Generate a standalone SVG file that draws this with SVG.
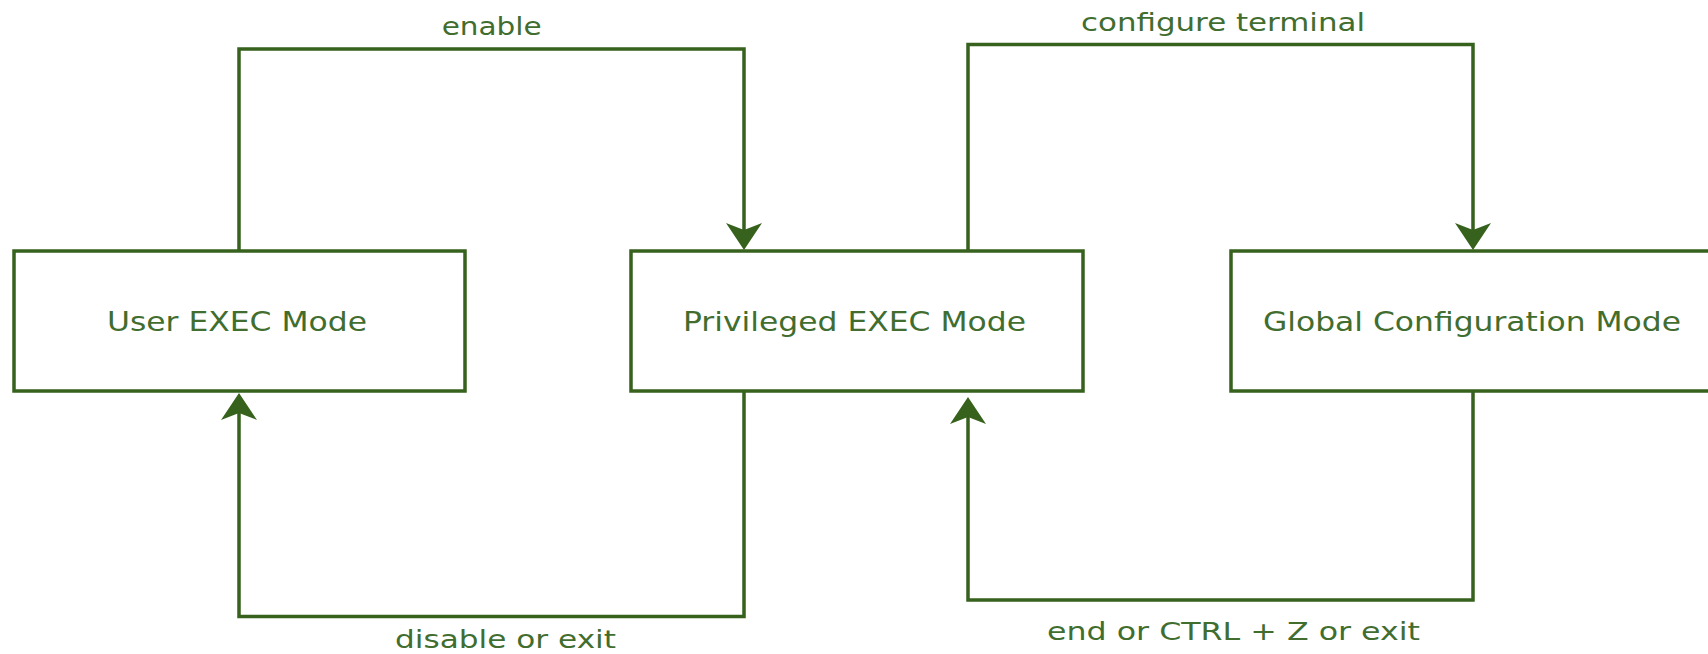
<svg xmlns="http://www.w3.org/2000/svg" width="1708" height="654" viewBox="0 0 1708 654">
  <style>
    .box { fill: #ffffff; stroke: #36621d; stroke-width: 3.5; }
    .edge { fill: none; stroke: #36621d; stroke-width: 3.5; }
    .label { font-family: "DejaVu Sans", Verdana, sans-serif; fill: #416d2f; }
    .node-label { font-size: 27px; }
    .edge-label { font-size: 24px; }
  </style>
  <defs>
    <marker id="arrow" markerUnits="userSpaceOnUse" orient="auto" refX="0" refY="0" markerWidth="40" markerHeight="40" overflow="visible">
      <path d="M20,0 L-7,-18 L0,0 L-7,18 Z" fill="#36621d"/>
    </marker>
  </defs>
  <rect width="1708" height="654" fill="#ffffff"/>

  <g id="connectors">
    <path class="edge" d="M239,251 V49 H744 V230" marker-end="url(#arrow)"/>
    <path class="edge" d="M968,251 V44.5 H1473 V230" marker-end="url(#arrow)"/>
    <path class="edge" d="M744,391 V616.5 H239 V413" marker-end="url(#arrow)"/>
    <path class="edge" d="M1473,391 V600 H968 V417" marker-end="url(#arrow)"/>
    <text class="label edge-label" x="441.7" y="35" textLength="100" lengthAdjust="spacingAndGlyphs">enable</text>
    <text class="label edge-label" x="1081" y="30.7" textLength="284" lengthAdjust="spacingAndGlyphs">configure terminal</text>
    <text class="label edge-label" x="395" y="648" textLength="221" lengthAdjust="spacingAndGlyphs">disable or exit</text>
    <text class="label edge-label" x="1047" y="640" textLength="373" lengthAdjust="spacingAndGlyphs">end or CTRL + Z or exit</text>
  </g>

  <g id="user-exec">
    <rect class="box" x="14" y="251" width="451" height="140"/>
    <text class="label node-label" x="107" y="331" textLength="260" lengthAdjust="spacingAndGlyphs">User EXEC Mode</text>
  </g>
  <g id="privileged-exec">
    <rect class="box" x="631" y="251" width="452" height="140"/>
    <text class="label node-label" x="683" y="331" textLength="343" lengthAdjust="spacingAndGlyphs">Privileged EXEC Mode</text>
  </g>
  <g id="global-config">
    <rect class="box" x="1231" y="251" width="495" height="140"/>
    <text class="label node-label" x="1263" y="331" textLength="418" lengthAdjust="spacingAndGlyphs">Global Configuration Mode</text>
  </g>
</svg>
